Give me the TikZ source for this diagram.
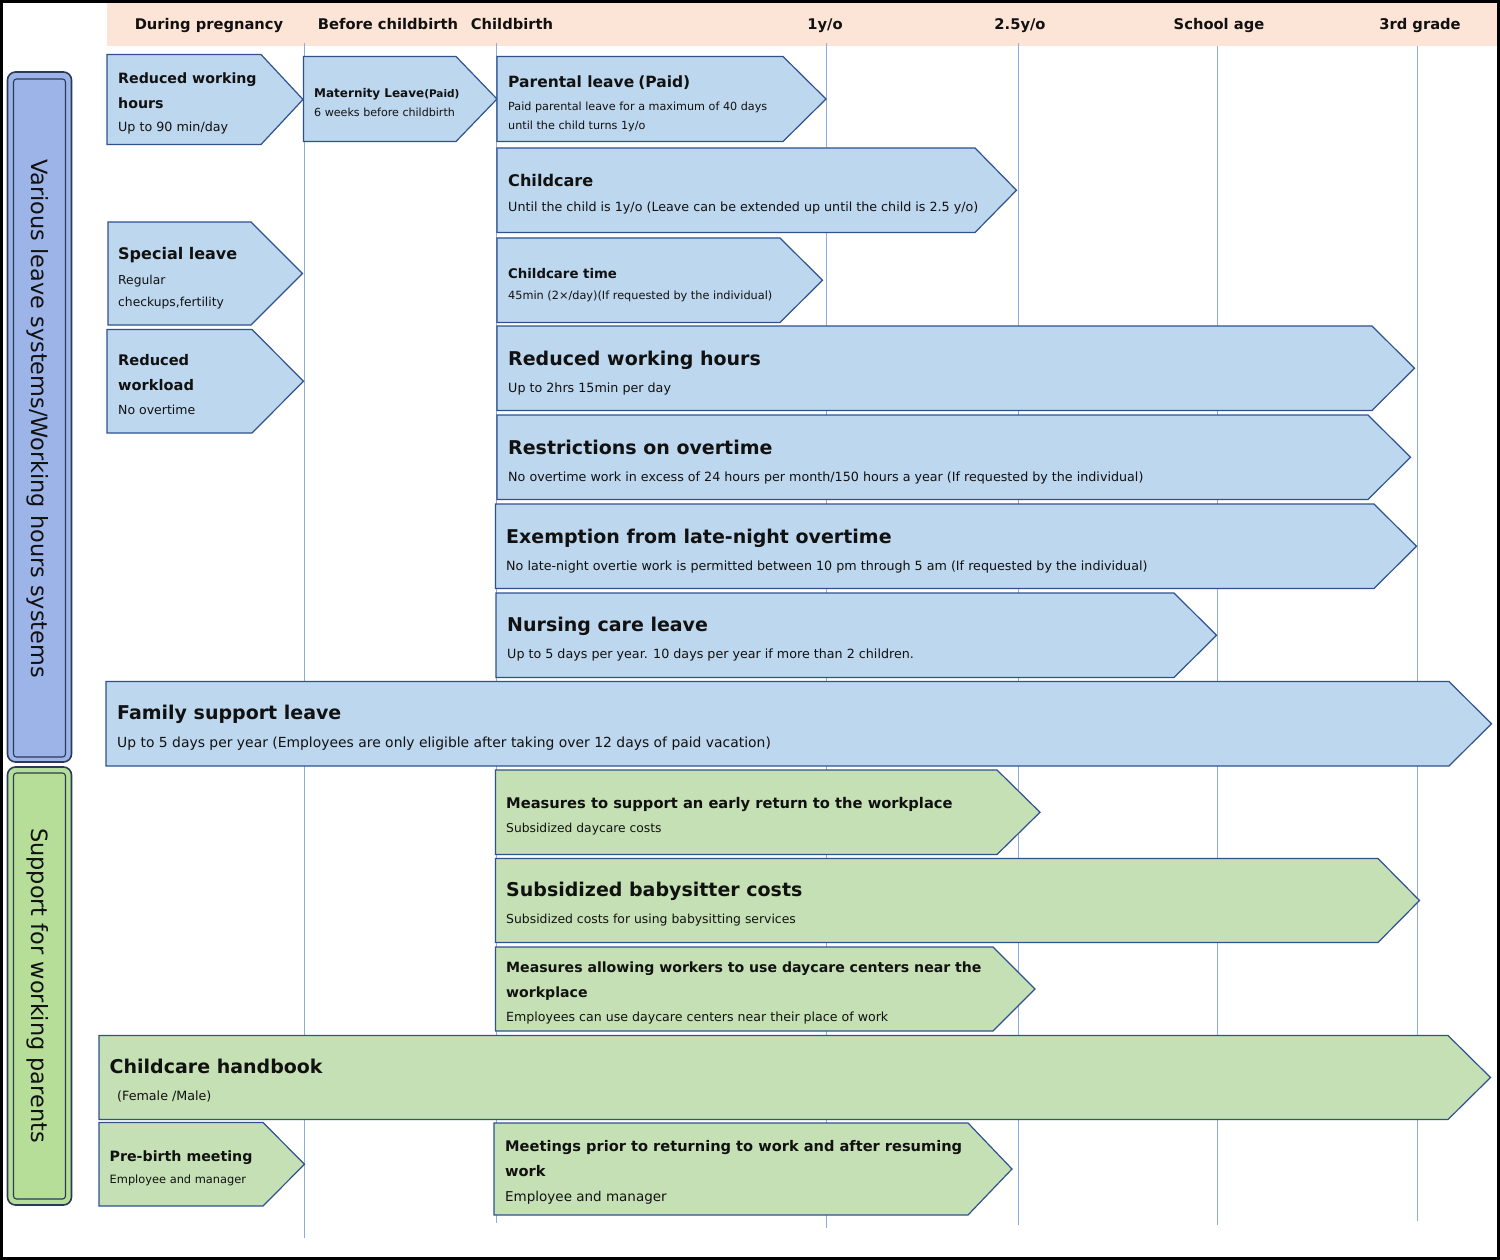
\documentclass[tikz,border=0pt]{standalone}
\usepackage{fontspec}
\setmainfont{DejaVu Sans}
\definecolor{boxblue}{HTML}{BDD7EE}
\definecolor{boxgreen}{HTML}{C5E0B4}
\definecolor{boxedge}{HTML}{2F528F}
\definecolor{gridblue}{HTML}{8FAADC}
\definecolor{hdrband}{HTML}{FCE4D6}
\definecolor{lblblue}{HTML}{9DB4E9}
\definecolor{lblgreen}{HTML}{B6DE98}
\definecolor{lbledge}{HTML}{2B3A55}
\definecolor{txt}{HTML}{111111}
\newcommand\fzHdr{\fontsize{14.7}{17}\selectfont\bfseries}
\newcommand\fzBig{\fontsize{19}{22}\selectfont\bfseries}
\newcommand\fzMid{\fontsize{14.5}{17}\selectfont\bfseries}
\newcommand\fzSub{\fontsize{12.7}{15}\selectfont}
\newcommand\fzSml{\fontsize{11.2}{13}\selectfont}
\newcommand\fzSide{\fontsize{22.4}{26}\selectfont}
\newcommand\abox[7]{%
  \draw[#2] (#3,#6) -- (#4,#6) -- (#5,{(#6+#7)/2}) -- (#4,#7) -- (#3,#7) -- cycle;
  \coordinate (#1) at (#3,#6);}
\tikzset{
  bluebox/.style={fill=boxblue, draw=boxedge, line width=1.2pt, line join=miter},
  greenbox/.style={fill=boxgreen, draw=boxedge, line width=1.2pt, line join=miter},
  vline/.style={draw=gridblue, line width=1pt},
  lbl/.style={anchor=mid west, inner sep=0pt, text=txt, yshift=-3.5pt},
  hdr/.style={anchor=mid, inner sep=0pt, text=txt, font=\fzHdr, yshift=-3pt},
  sidelbl/.style={anchor=center, inner sep=0pt, text=txt, font=\fzSide, rotate=-90},
}
\begin{document}
\begin{tikzpicture}[x=1pt, y=-1pt]
\useasboundingbox (0,0) rectangle (1500,1260);
\fill[white] (0,0) rectangle (1500,1260);
% header band
\fill[hdrband] (107,3) rectangle (1497,46);
\node[hdr] (h1) at (209,24) {During pregnancy};
\node[hdr] (h2) at (388,24) {Before childbirth};
\node[hdr] (h3) at (512,24) {Childbirth};
\node[hdr] (h4) at (825,24) {1y/o};
\node[hdr] (h5) at (1020,24) {2.5y/o};
\node[hdr] (h6) at (1219,24) {School age};
\node[hdr] (h7) at (1420,24) {3rd grade};
% vertical grid lines
\draw[vline] (304,43) -- (304,1238);
\draw[vline] (496,43) -- (496,1223);
\draw[vline] (826,43) -- (826,1228);
\draw[vline] (1018,43) -- (1018,1225);
\draw[vline] (1217,46) -- (1217,1225);
\draw[vline] (1417,46) -- (1417,1221);
% side labels
\draw[fill=lblblue, draw=lbledge, line width=1.6pt, rounded corners=8pt] (7.5,72) rectangle (71.5,762);
\draw[draw=lbledge, line width=1.1pt, rounded corners=3pt] (13.5,79) rectangle (65.5,757);
\node[sidelbl] (s1) at (38,418.5) {Various leave systems/Working hours systems};
\draw[fill=lblgreen, draw=lbledge, line width=1.6pt, rounded corners=8pt] (7.5,767) rectangle (71.5,1205);
\draw[draw=lbledge, line width=1.1pt, rounded corners=3pt] (13.5,773) rectangle (65.5,1199);
\node[sidelbl] (s2) at (38,985.5) {Support for working parents};
% blue boxes
\abox{b1}{bluebox}{107}{261}{303}{54.5}{144.5}
\node[lbl, font=\fontsize{14.2}{17}\selectfont\bfseries] (b1a) at (118,77) {Reduced working};
\node[lbl, font=\fontsize{14.2}{17}\selectfont\bfseries] (b1b) at (118,102) {hours};
\node[lbl, font=\fzSub] (b1c) at (118,125.5) {Up to 90 min/day};
\abox{b2}{bluebox}{303.5}{456}{497}{56.5}{141.5}
\node[lbl, font=\fontsize{12}{14}\selectfont\bfseries] (b2a) at (314,91) {Maternity Leave{\fontsize{10.5}{12}\selectfont(Paid)}};
\node[lbl, font=\fontsize{11.1}{13}\selectfont] (b2b) at (314,110) {6 weeks before childbirth};
\abox{b3}{bluebox}{497}{783}{826}{56.5}{141.5}
\node[lbl, font=\fontsize{15.5}{18}\selectfont\bfseries] (b3a) at (508,81) {Parental leave\hspace{4pt}(Paid)};
\node[lbl, font=\fzSml] (b3b) at (508,104) {Paid parental leave for a maximum of 40 days};
\node[lbl, font=\fzSml] (b3c) at (508,123) {until the child turns 1y/o};
\abox{b4}{bluebox}{497}{975}{1016.5}{148}{232.5}
\node[lbl, font=\fontsize{16.1}{19}\selectfont\bfseries] (b4a) at (508,180) {Childcare};
\node[lbl, font=\fzSub] (b4b) at (508,205) {Until the child is 1y/o (Leave can be extended up until the child is 2.5 y/o)};
\abox{b5}{bluebox}{497}{780}{822.5}{238}{322.5}
\node[lbl, font=\fontsize{13.3}{16}\selectfont\bfseries] (b5a) at (508,272) {Childcare time};
\node[lbl, font=\fontsize{11.3}{13}\selectfont] (b5b) at (508,293) {45min (2×/day)(If requested by the individual)};
\abox{b6}{bluebox}{108}{251}{302.5}{222}{325}
\node[lbl, font=\fontsize{16}{19}\selectfont\bfseries] (b6a) at (118,253.5) {Special leave};
\node[lbl, font=\fontsize{12.3}{15}\selectfont] (b6b) at (118,278.5) {Regular};
\node[lbl, font=\fontsize{12.3}{15}\selectfont] (b6c) at (118,300) {checkups,fertility};
\abox{b7}{bluebox}{107}{252}{303.5}{329.5}{433}
\node[lbl, font=\fontsize{14.6}{17}\selectfont\bfseries] (b7a) at (118,359) {Reduced};
\node[lbl, font=\fontsize{14.6}{17}\selectfont\bfseries] (b7b) at (118,384) {workload};
\node[lbl, font=\fontsize{12.5}{15}\selectfont] (b7c) at (118,408) {No overtime};
\abox{b8}{bluebox}{497}{1372}{1414.5}{326}{410.5}
\node[lbl, font=\fzBig] (b8a) at (508,359) {Reduced working hours};
\node[lbl, font=\fzSub] (b8b) at (508,386) {Up to 2hrs 15min per day};
\abox{b9}{bluebox}{497}{1368}{1410.5}{415}{499.5}
\node[lbl, font=\fzBig] (b9a) at (508,448) {Restrictions on overtime};
\node[lbl, font=\fzSub] (b9b) at (508,475) {No overtime work in excess of 24 hours per month/150 hours a year (If requested by the individual)};
\abox{b10}{bluebox}{495.5}{1374}{1416.5}{504}{588.5}
\node[lbl, font=\fzBig] (b10a) at (506,537) {Exemption from late-night overtime};
\node[lbl, font=\fzSub] (b10b) at (506,564) {No late-night overtie work is permitted between 10 pm through 5 am (If requested by the individual)};
\abox{b11}{bluebox}{496}{1174}{1216.5}{593}{677.5}
\node[lbl, font=\fzBig] (b11a) at (507,625.5) {Nursing care leave};
\node[lbl, font=\fzSub] (b11b) at (507,652.5) {Up to 5 days per year. 10 days per year if more than 2 children.};
\abox{b12}{bluebox}{106}{1449}{1491.5}{681.5}{766}
\node[lbl, font=\fzBig] (b12a) at (117,713.5) {Family support leave};
\node[lbl, font=\fontsize{13.9}{16}\selectfont] (b12b) at (117,741) {Up to 5 days per year (Employees are only eligible after taking over 12 days of paid vacation)};
% green boxes
\abox{g1}{greenbox}{495.5}{997}{1040}{770}{854.5}
\node[lbl, font=\fontsize{14.7}{17}\selectfont\bfseries] (g1a) at (506,802) {Measures to support an early return to the workplace};
\node[lbl, font=\fontsize{12.3}{14}\selectfont] (g1b) at (506,826) {Subsidized daycare costs};
\abox{g2}{greenbox}{495.5}{1378}{1419.5}{858.5}{942.5}
\node[lbl, font=\fzBig] (g2a) at (506,890.5) {Subsidized babysitter costs};
\node[lbl, font=\fontsize{12.4}{14}\selectfont] (g2b) at (506,917.5) {Subsidized costs for using babysitting services};
\abox{g3}{greenbox}{495.5}{993}{1035}{947}{1031}
\node[lbl, font=\fontsize{14.1}{17}\selectfont\bfseries] (g3a) at (506,966.5) {Measures allowing workers to use daycare centers near the};
\node[lbl, font=\fontsize{14.1}{17}\selectfont\bfseries] (g3b) at (506,991.5) {workplace};
\node[lbl, font=\fontsize{12.6}{15}\selectfont] (g3c) at (506,1015) {Employees can use daycare centers near their place of work};
\abox{g4}{greenbox}{99}{1448}{1490.5}{1035.5}{1119.5}
\node[lbl, font=\fzBig] (g4a) at (109.5,1067.5) {Childcare handbook};
\node[lbl, font=\fzSub] (g4b) at (117,1094.5) {(Female /Male)};
\abox{g5}{greenbox}{99}{263}{304.5}{1122.5}{1206}
\node[lbl, font=\fontsize{14.2}{17}\selectfont\bfseries] (g5a) at (109.5,1155.5) {Pre-birth meeting};
\node[lbl, font=\fontsize{11.4}{13}\selectfont] (g5b) at (109.5,1177.5) {Employee and manager};
\abox{g6}{greenbox}{494}{968}{1012}{1123}{1215}
\node[lbl, font=\fontsize{14.6}{17}\selectfont\bfseries] (g6a) at (505,1145.5) {Meetings prior to returning to work and after resuming};
\node[lbl, font=\fontsize{14.6}{17}\selectfont\bfseries] (g6b) at (505,1170.5) {work};
\node[lbl, font=\fontsize{13.5}{16}\selectfont] (g6c) at (505,1195.5) {Employee and manager};
% outer frame
\draw[black, line width=3pt] (1.5,1.5) rectangle (1498.5,1258.5);
\end{tikzpicture}
\end{document}
